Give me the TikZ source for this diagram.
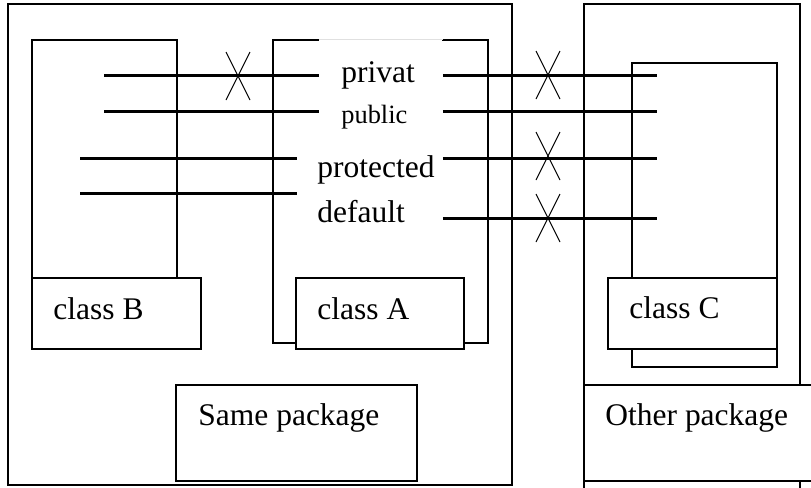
\documentclass[tikz,border=0pt]{standalone}
\usepackage{fontspec}
\setmainfont{Liberation Serif}
\begin{document}
\begin{tikzpicture}[x=0.5pt,y=-0.5pt,line join=miter,
  frame/.style={draw=black,line width=0.8pt},
  lbox/.style={frame,fill=white},
  access/.style={line width=1.5pt},
  cross/.style={line width=0.5pt},
  lbl/.style={inner sep=0pt,anchor=base west,font=\fontsize{15.75}{18}\selectfont}]
\clip (0,0) rectangle (811,488);
% the two packages
\draw[frame] (8,4) rectangle (512,485);
\draw[frame] (584,4) rectangle (800,530);
% class frames
\draw[frame] (32,278) -- (32,40) -- (177,40) -- (177,278);
\draw[frame] (273,40) rectangle (488,343);
\draw[frame] (632,63) rectangle (777,367);
% modifier column
\node[fill=white,inner sep=0pt,anchor=north west,minimum width=61.5pt,minimum height=103pt] (col) at (319,39) {};
\draw[black!12] (col.north west) -- (col.north east);
% access lines
\foreach \y in {75,111} \draw[access] (104,\y) -- (col.west |- 0,\y);
\foreach \y in {158,193} \draw[access] (80,\y) -- (297,\y);
\foreach \y in {75,111,158,218} \draw[access] (col.east |- 0,\y) -- (657,\y);
% no access
\foreach \x/\y in {238/76,548/75,548/156,548/218}
  \draw[cross] (\x-12,\y-24) -- (\x+12,\y+24) (\x+12,\y-24) -- (\x-12,\y+24);
\node[lbl] (priv) at (341,82) {privat};
\node[lbl,font=\fontsize{13.2}{15}\selectfont] (pub) at (341,123) {public};
\node[lbl] (prot) at (317,177) {protected};
\node[lbl] (dflt) at (317,222) {default};
% class and package labels
\draw[lbox] (32,278) rectangle (201,349);
\draw[lbox] (296,278) rectangle (464,349);
\draw[lbox] (608,278) rectangle (777,349);
\draw[lbox] (176,385) rectangle (417,481);
\draw[lbox] (584,385) rectangle (830,481);
\node[lbl] (clsB) at (53,319) {class B};
\node[lbl] (clsA) at (317,319) {class A};
\node[lbl] (clsC) at (629,318) {class C};
\node[lbl] (same) at (198,425) {Same package};
\node[lbl] (other) at (605,425) {Other package};
\end{tikzpicture}
\end{document}
